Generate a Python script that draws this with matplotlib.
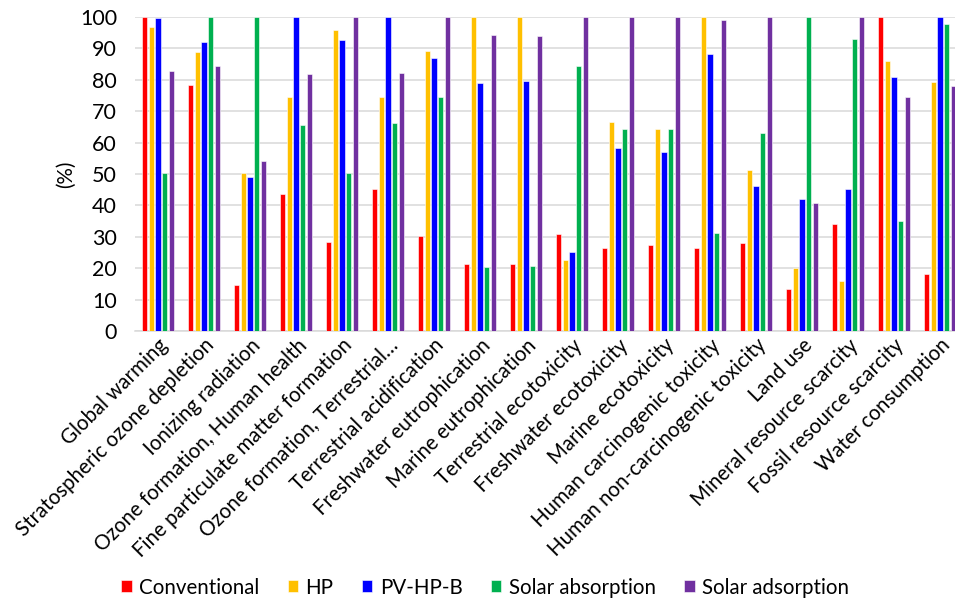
import matplotlib
matplotlib.use("Agg")
import matplotlib.pyplot as plt
import numpy as np

categories = [
    "Global warming",
    "Stratospheric ozone depletion",
    "Ionizing radiation",
    "Ozone formation, Human health",
    "Fine particulate matter formation",
    "Ozone formation, Terrestrial\u2026",
    "Terrestrial acidification",
    "Freshwater eutrophication",
    "Marine eutrophication",
    "Terrestrial ecotoxicity",
    "Freshwater ecotoxicity",
    "Marine ecotoxicity",
    "Human carcinogenic toxicity",
    "Human non-carcinogenic toxicity",
    "Land use",
    "Mineral resource scarcity",
    "Fossil resource scarcity",
    "Water consumption",
]

conventional = [100, 78.2, 14.5, 43.6, 28.5, 45.1, 30.1, 21.4, 21.4, 30.8,
                26.5, 27.4, 26.3, 27.9, 13.4, 34.0, 100, 18.1]
hp = [96.8, 88.9, 50.3, 74.5, 96.0, 74.5, 89.3, 100, 100, 22.7,
      66.6, 64.4, 100, 51.4, 20.2, 15.9, 85.9, 79.2]
pv_hp_b = [99.7, 91.9, 49.0, 100, 92.7, 100, 86.9, 78.9, 79.5, 25.1,
           58.2, 57.1, 88.2, 46.1, 42.0, 45.1, 80.9, 100]
solar_absorption = [50.3, 100, 100, 65.5, 50.2, 66.4, 74.5, 20.4, 20.7, 84.5,
                    64.4, 64.4, 31.3, 63.0, 100, 92.9, 35.0, 97.7]
solar_adsorption = [82.7, 84.5, 54.0, 81.8, 100, 82.1, 100, 94.2, 93.9, 100,
                    100, 100, 99.2, 100, 40.8, 100, 74.5, 78.1]

series_names = ["Conventional", "HP", "PV-HP-B", "Solar absorption", "Solar adsorption"]
series_values = [conventional, hp, pv_hp_b, solar_absorption, solar_adsorption]
colors = ["#FF0000", "#FFC000", "#0000FF", "#00B050", "#7030A0"]

yticks = list(range(0, 101, 10))

plt.rcParams["font.family"] = ["Lato", "DejaVu Sans"]

fig = plt.figure(figsize=(9.55, 6.01), dpi=100)
ax = fig.add_axes([135 / 955, 1 - 331 / 601, (963 - 135) / 955, (331 - 17) / 601])

x = np.arange(len(categories))
step = 0.15
width = 0.11
for i, (name, vals, c) in enumerate(zip(series_names, series_values, colors)):
    ax.bar(x + (i - 2) * step, vals, width=width, color=c, label=name,
           edgecolor="white", linewidth=0.4, zorder=3)

ax.set_xlim(-0.5, len(categories) - 0.5)
ax.set_ylim(0, 100)
ax.set_yticks(yticks)
ax.set_yticklabels([str(t) for t in yticks], fontsize=15.5)
ax.yaxis.grid(True, color="#D9D9D9", linewidth=1.1, zorder=0)
ax.set_axisbelow(True)
ax.tick_params(axis="y", length=0, pad=13)
for s in ["top", "right", "left"]:
    ax.spines[s].set_visible(False)
ax.spines["bottom"].set_color("#D9D9D9")
ax.spines["bottom"].set_linewidth(1.1)

ax.set_xticks(x)
ax.set_xticklabels(categories, rotation=45, ha="right", va="top",
                   rotation_mode="anchor", fontsize=14.8)
ax.tick_params(axis="x", length=0, pad=3)

ax.set_ylabel("(%)", fontsize=14.8, labelpad=3)

fig.legend(loc="lower center", bbox_to_anchor=(0.508, -0.025), ncol=5, frameon=False,
           fontsize=14.8, handlelength=0.5, handleheight=0.5, handletextpad=0.35,
           columnspacing=1.4)

fig.savefig("out.png", dpi=100)
